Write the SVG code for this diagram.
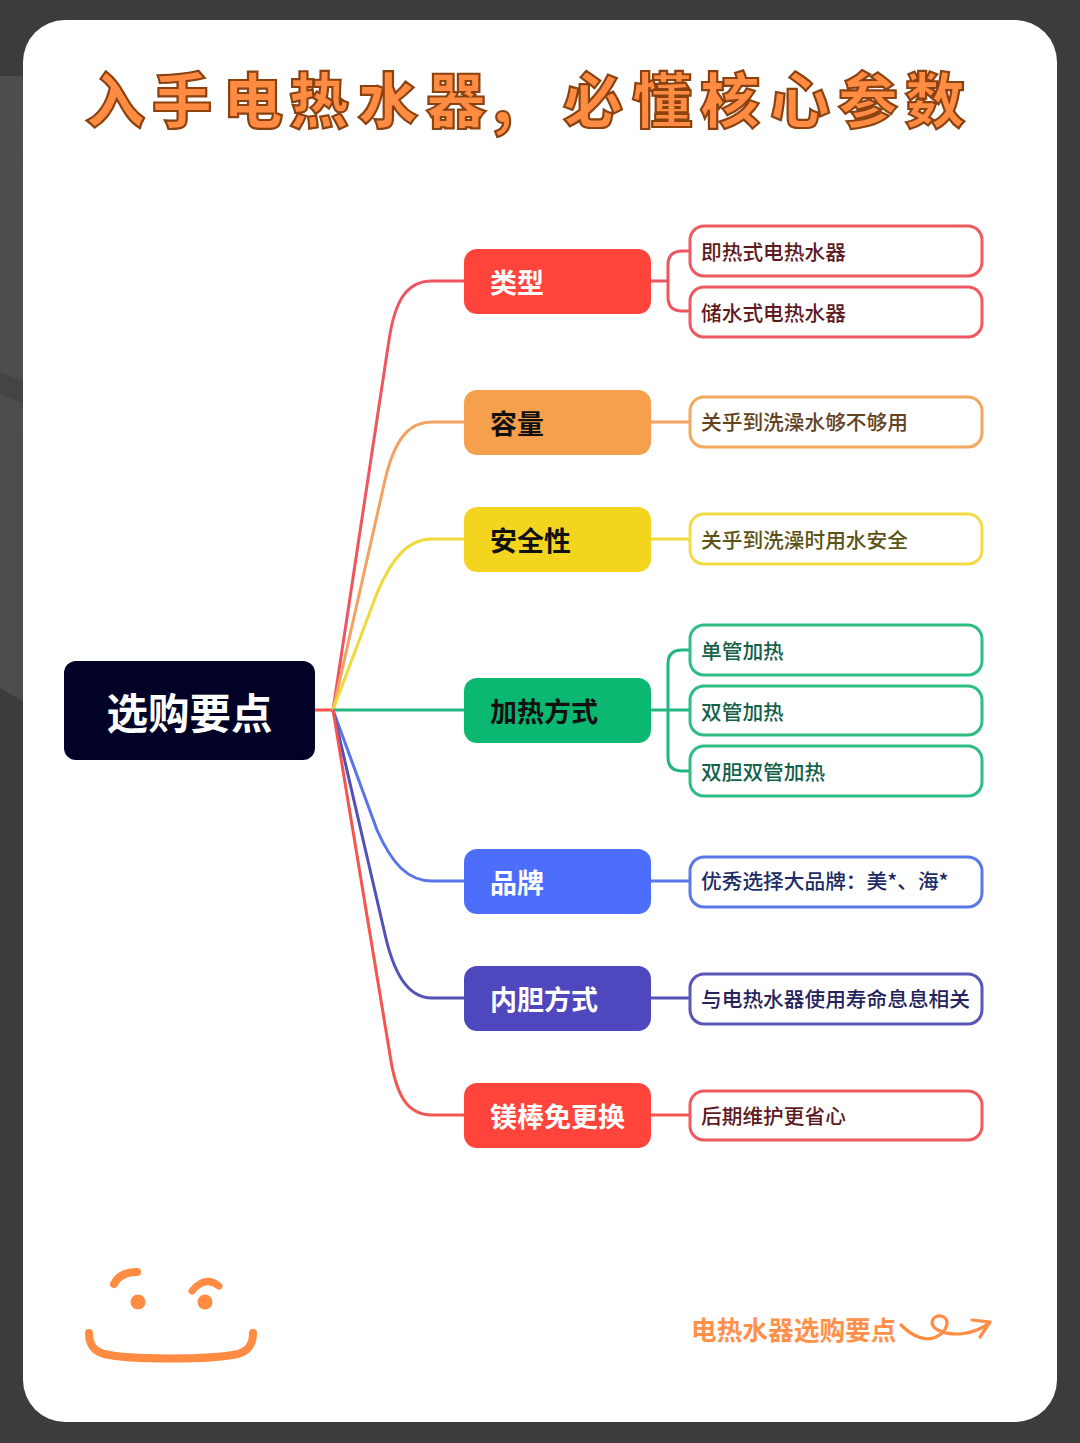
<svg xmlns="http://www.w3.org/2000/svg" width="1080" height="1443" viewBox="0 0 1080 1443">
<defs>
<style>
text{font-family:"Noto Sans CJK SC","Noto Sans",sans-serif}
.title{font-size:60px;font-weight:900;fill:#ff8c42;stroke:#8a4210;stroke-width:2.2px}
.main{font-size:41.5px;font-weight:700;fill:#fff;text-anchor:middle}
.bt{font-size:27px;font-weight:700}
.lt{font-size:20.7px;font-weight:500}
.c{fill:none;stroke-width:3}
.leaf{fill:#fff;stroke-width:3}
.o{fill:none;stroke:#ff8c42;stroke-linecap:round;stroke-linejoin:round}
</style>
<linearGradient id="strip" x1="0" y1="0" x2="0" y2="1"><stop offset="0" stop-color="#4c4e50"/><stop offset="1" stop-color="#4a4c4e"/></linearGradient>
</defs>
<rect id="bg" width="1080" height="1443" fill="#3c3c3c"/>
<path d="M0 76H24V702L0 688Z" fill="url(#strip)"/>
<path d="M0 372L24 382V404L0 394Z" fill="#444444"/>
<rect id="card" x="23" y="20" width="1034" height="1402" rx="42" fill="#fff"/>
<text id="title" class="title" y="123" x="85 152 223 289 358 426 492 563 632 700 770 838 905">入手电热水器,必懂核心参数</text>
<g id="connectors">
<path class="c" stroke="#f9534b" d="M315 710H333"/>
<path class="c" stroke="#ee5560" d="M333 710L389 340C395 300 407 281 432 281H464"/>
<path class="c" stroke="#f3a261" d="M333 710L385 480C394 442 407 422 432 422H464"/>
<path class="c" stroke="#f1d93a" d="M333 710L377 593C392 558 408 539 432 539H464"/>
<path class="c" stroke="#22b681" d="M333 710H464"/>
<path class="c" stroke="#5a74ea" d="M333 710L377 830C392 864 408 881 432 881H464"/>
<path class="c" stroke="#5350b8" d="M333 710L384 930C393 972 407 998 432 998H464"/>
<path class="c" stroke="#f5554f" d="M333 710L390 1055C396 1095 407 1115 432 1115H464"/>
<path class="c" stroke="#ee5560" d="M651 281H668M690 251H682Q668 251 668 265V297Q668 311 682 311H690"/>
<path class="c" stroke="#f3a261" d="M651 422H690"/>
<path class="c" stroke="#f1d93a" d="M651 539H690"/>
<path class="c" stroke="#22b681" d="M651 710H690M690 650H682Q668 650 668 664V757Q668 771 682 771H690"/>
<path class="c" stroke="#5a74ea" d="M651 881H690"/>
<path class="c" stroke="#5350b8" d="M651 998H690"/>
<path class="c" stroke="#f5554f" d="M651 1115H690"/>
</g>
<g id="root"><rect x="64" y="661" width="251" height="99" rx="12" fill="#020226"/><text class="main" x="189.500" y="729">选购要点</text></g>
<g id="b1"><rect x="464" y="249" width="187" height="65" rx="13" fill="#ff443c"/><text class="bt" x="490" y="293" fill="#fff">类型</text></g>
<g id="b2"><rect x="464" y="390" width="187" height="65" rx="13" fill="#f6a04d"/><text class="bt" x="490" y="434" fill="#111">容量</text></g>
<g id="b3"><rect x="464" y="507" width="187" height="65" rx="13" fill="#f3d51f"/><text class="bt" x="490" y="551" fill="#111">安全性</text></g>
<g id="b4"><rect x="464" y="678" width="187" height="65" rx="13" fill="#0ab872"/><text class="bt" x="490" y="722" fill="#111">加热方式</text></g>
<g id="b5"><rect x="464" y="849" width="187" height="65" rx="13" fill="#4d6dfb"/><text class="bt" x="490" y="893" fill="#fff">品牌</text></g>
<g id="b6"><rect x="464" y="966" width="187" height="65" rx="13" fill="#4e47bd"/><text class="bt" x="490" y="1010" fill="#fff">内胆方式</text></g>
<g id="b7"><rect x="464" y="1083" width="187" height="65" rx="13" fill="#ff443c"/><text class="bt" x="490" y="1127" fill="#fff">镁棒免更换</text></g>
<g id="l1"><rect class="leaf" x="690" y="226" width="292" height="50" rx="14" stroke="#ee5a60"/><text class="lt" x="701" y="260" fill="#5e1a1e">即热式电热水器</text></g>
<g id="l2"><rect class="leaf" x="690" y="287" width="292" height="50" rx="14" stroke="#ee5a60"/><text class="lt" x="701" y="321" fill="#5e1a1e">储水式电热水器</text></g>
<g id="l3"><rect class="leaf" x="690" y="397" width="292" height="50" rx="14" stroke="#f3a860"/><text class="lt" x="701" y="430" fill="#63421e">关乎到洗澡水够不够用</text></g>
<g id="l4"><rect class="leaf" x="690" y="514" width="292" height="50" rx="14" stroke="#f2dc45"/><text class="lt" x="701" y="548" fill="#5c5215">关乎到洗澡时用水安全</text></g>
<g id="l5"><rect class="leaf" x="690" y="625" width="292" height="50" rx="14" stroke="#2fbd86"/><text class="lt" x="701" y="659" fill="#15614a">单管加热</text></g>
<g id="l6"><rect class="leaf" x="690" y="686" width="292" height="49" rx="14" stroke="#2fbd86"/><text class="lt" x="701" y="720" fill="#15614a">双管加热</text></g>
<g id="l7"><rect class="leaf" x="690" y="746" width="292" height="50" rx="14" stroke="#2fbd86"/><text class="lt" x="701" y="780" fill="#15614a">双胆双管加热</text></g>
<g id="l8"><rect class="leaf" x="690" y="857" width="292" height="50" rx="14" stroke="#5c78e8"/><text class="lt" x="701" y="889" fill="#1e2c66">优秀选择大品牌：美*、海*</text></g>
<g id="l9"><rect class="leaf" x="690" y="974" width="292" height="50" rx="14" stroke="#5a56b8"/><text class="lt" x="701" y="1007" fill="#25235c">与电热水器使用寿命息息相关</text></g>
<g id="l10"><rect class="leaf" x="690" y="1091" width="292" height="49" rx="14" stroke="#ee5a60"/><text class="lt" x="701" y="1124" fill="#5e1a1e">后期维护更省心</text></g>
<g id="face">
<path class="o" stroke-width="8" d="M114 1284Q120 1272 137 1272"/>
<path class="o" stroke-width="7" d="M192 1291Q205 1275 219 1286"/>
<circle cx="138" cy="1302" r="7.5" fill="#ff8c42"/>
<circle cx="205" cy="1302" r="7.5" fill="#ff8c42"/>
<path class="o" stroke-width="8" d="M89 1333C89 1345 94 1351 104 1354C130 1360 210 1360 238 1354C248 1351 253 1345 253 1333"/>
</g>
<g id="footer">
<text x="691" y="1340" font-size="25.700" font-weight="700" fill="#ff8c42" opacity="0.95">电热水器选购要点</text>
<path class="o" stroke-width="3.2" d="M901 1325C912 1336 925 1342 936 1337C948 1331 951 1318 941 1316C932 1315 928 1325 938 1330C952 1337 975 1335 990 1322M972 1320L990 1322L980 1337"/>
</g>
</svg>
